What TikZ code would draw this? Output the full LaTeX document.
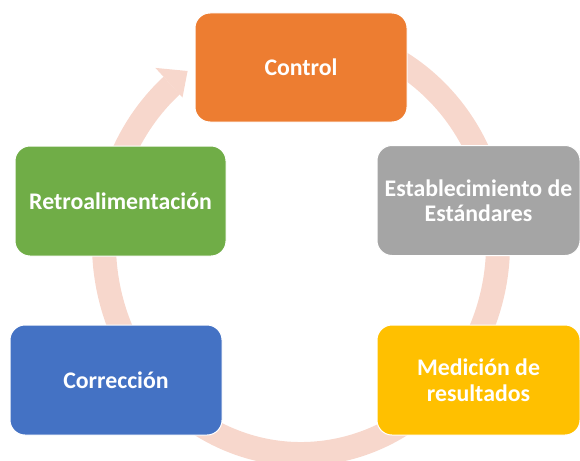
\documentclass[tikz,border=0pt]{standalone}
\usepackage{fontspec}
\setmainfont{Carlito}
\definecolor{ringc}{HTML}{F7D7CC}
\definecolor{corange}{HTML}{ED7D31}
\definecolor{cgray}{HTML}{A5A5A5}
\definecolor{cgold}{HTML}{FFC000}
\definecolor{cblue}{HTML}{4472C4}
\definecolor{cgreen}{HTML}{70AD47}
\tikzset{
  stepbox/.style={rectangle, rounded corners=15pt, draw=white, line width=1pt,
    text=white, align=center, inner sep=0pt,
    font=\fontsize{23.8}{25.5}\selectfont\bfseries},
  ring/.style={draw=ringc, line width=24pt}
}
\begin{document}
\begin{tikzpicture}[x=1pt,y=-1pt]
\useasboundingbox (0,0) rectangle (580,460);
\clip (0,0) rectangle (580,460);
% ring
\draw[ring] (301,244) ++(260:197 and 210) arc[start angle=260, end angle=589, x radius=197, y radius=210];
\coordinate (hout) at (155.4,67.9);
\coordinate (htip) at (187.6,71.0);
\coordinate (hin) at (182.5,97.5);
\fill[ringc] (hout) -- (htip) -- (hin) -- cycle;
% boxes
\node[stepbox, fill=corange, minimum width=212pt, minimum height=109pt] (control) at (301,67.5) {Control};
\node[stepbox, fill=cgray, minimum width=203pt, minimum height=110pt] (estab) at (478.5,200.5) {Establecimiento de\\Estándares};
\node[stepbox, fill=cgold, minimum width=203pt, minimum height=110pt] (medic) at (478.5,380) {Medición de\\resultados};
\node[stepbox, fill=cblue, minimum width=212pt, minimum height=110pt] (correc) at (116,380) {Corrección};
\node[stepbox, fill=cgreen, minimum width=211pt, minimum height=110pt] (retro) at (120.5,201) {Retroalimentación};
\end{tikzpicture}
\end{document}
